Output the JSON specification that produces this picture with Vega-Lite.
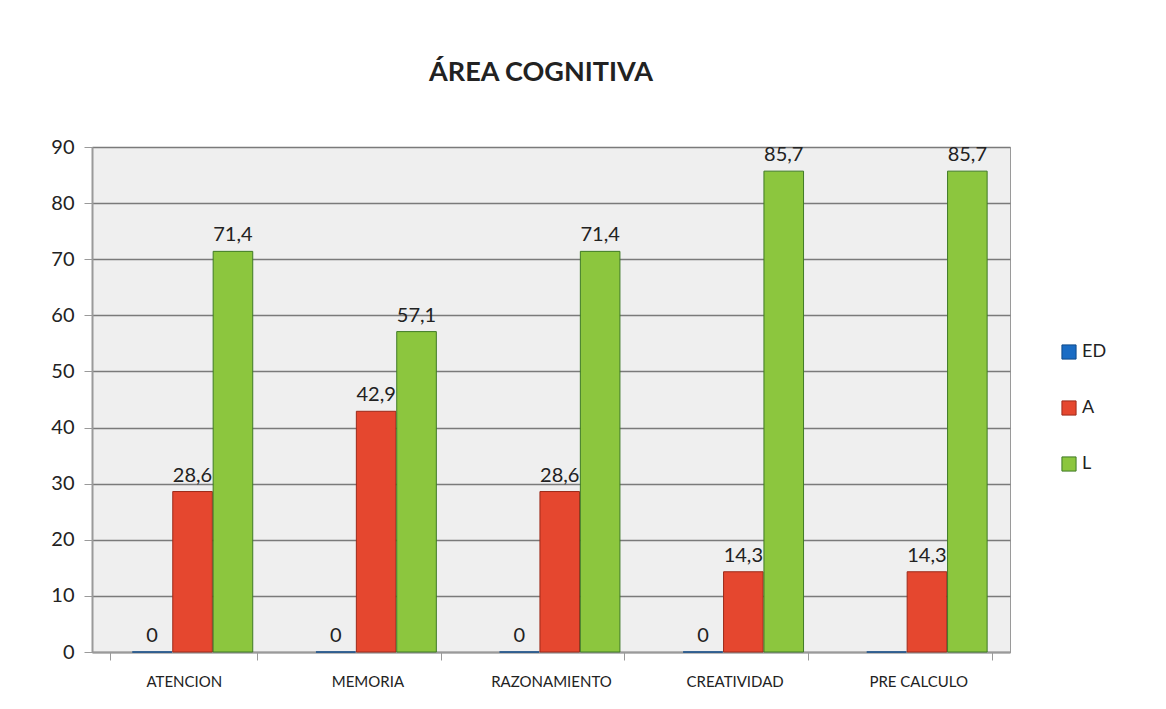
{
  "$schema": "https://vega.github.io/schema/vega-lite/v6.json",
  "width": 918,
  "height": 505,
  "autosize": {"type": "none"},
  "padding": {"left": 92, "top": 147, "right": 156, "bottom": 57},
  "background": "white",
  "title": {
    "text": "ÁREA COGNITIVA",
    "font": "Lato",
    "fontSize": 27,
    "fontWeight": "bold",
    "color": "#222222",
    "anchor": "middle",
    "dx": -10,
    "offset": 50
  },
  "data": {
    "values": [
      {"area": "ATENCION", "serie": "ED", "valor": 0, "label": "0"},
      {"area": "ATENCION", "serie": "A", "valor": 28.6, "label": "28,6"},
      {"area": "ATENCION", "serie": "L", "valor": 71.4, "label": "71,4"},
      {"area": "MEMORIA", "serie": "ED", "valor": 0, "label": "0"},
      {"area": "MEMORIA", "serie": "A", "valor": 42.9, "label": "42,9"},
      {"area": "MEMORIA", "serie": "L", "valor": 57.1, "label": "57,1"},
      {"area": "RAZONAMIENTO", "serie": "ED", "valor": 0, "label": "0"},
      {"area": "RAZONAMIENTO", "serie": "A", "valor": 28.6, "label": "28,6"},
      {"area": "RAZONAMIENTO", "serie": "L", "valor": 71.4, "label": "71,4"},
      {"area": "CREATIVIDAD", "serie": "ED", "valor": 0, "label": "0"},
      {"area": "CREATIVIDAD", "serie": "A", "valor": 14.3, "label": "14,3"},
      {"area": "CREATIVIDAD", "serie": "L", "valor": 85.7, "label": "85,7"},
      {"area": "PRE CALCULO", "serie": "ED", "valor": 0, "label": ""},
      {"area": "PRE CALCULO", "serie": "A", "valor": 14.3, "label": "14,3"},
      {"area": "PRE CALCULO", "serie": "L", "valor": 85.7, "label": "85,7"}
    ]
  },
  "encoding": {
    "x": {
      "field": "area",
      "type": "nominal",
      "sort": null,
      "title": null,
      "scale": {"paddingInner": 0.2, "paddingOuter": 0.1},
      "axis": {
        "labelAngle": 0,
        "labelFont": "Lato",
        "labelFontSize": 15,
        "labelColor": "#222222",
        "labelPadding": 14,
        "domainColor": "#9a9a9a",
        "domainWidth": 2,
        "tickColor": "#9a9a9a",
        "tickSize": 8,
        "tickBand": "extent",
        "grid": false
      }
    },
    "xOffset": {
      "field": "serie",
      "type": "nominal",
      "sort": ["ED", "A", "L"],
      "scale": {"paddingInner": 0.02, "paddingOuter": 0.328, "align": 0.83}
    }
  },
  "layer": [
    {
      "mark": {"type": "bar", "strokeWidth": 1},
      "encoding": {
        "y": {
          "field": "valor",
          "type": "quantitative",
          "title": null,
          "scale": {"domain": [0, 90]},
          "axis": {
            "values": [0, 10, 20, 30, 40, 50, 60, 70, 80, 90],
            "labelFont": "Lato",
            "labelFontSize": 20,
            "labelColor": "#222222",
            "labelPadding": 10,
            "domainColor": "#9a9a9a",
            "domainWidth": 2,
            "tickColor": "#9a9a9a",
            "tickSize": 8,
            "gridColor": "#7a7a7a",
            "gridWidth": 1.5
          }
        },
        "color": {
          "field": "serie",
          "type": "nominal",
          "sort": ["ED", "A", "L"],
          "scale": {"domain": ["ED", "A", "L"], "range": ["#1a6cc4", "#e5472f", "#8cc63e"]},
          "legend": {
            "title": null,
            "orient": "none",
            "legendX": 968,
            "legendY": 196,
            "symbolType": "square",
            "symbolSize": 200,
            "symbolStrokeColor": "#666666",
            "symbolStrokeWidth": 1,
            "labelFont": "Lato",
            "labelFontSize": 18,
            "labelColor": "#222222",
            "rowPadding": 36
          }
        },
        "stroke": {
          "field": "serie",
          "type": "nominal",
          "scale": {"domain": ["ED", "A", "L"], "range": ["#0f4a8a", "#9c2a1a", "#3f7a26"]},
          "legend": null
        }
      }
    },
    {
      "mark": {"type": "text", "baseline": "bottom", "dy": -6, "font": "Lato", "fontSize": 20, "color": "#222222"},
      "encoding": {
        "y": {"field": "valor", "type": "quantitative"},
        "text": {"field": "label", "type": "nominal"}
      }
    }
  ],
  "config": {
    "view": {"fill": "#efefef", "stroke": "#9a9a9a", "strokeWidth": 1}
  }
}
